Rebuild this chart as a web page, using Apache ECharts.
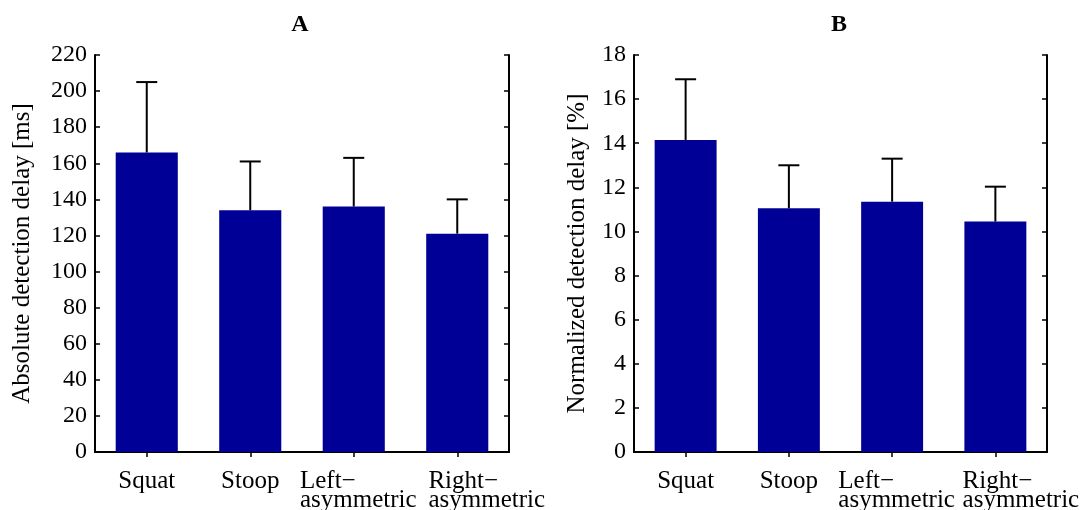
<!DOCTYPE html>
<html><head><meta charset="utf-8">
<script src="https://cdn.jsdelivr.net/npm/echarts@6/dist/echarts.min.js"></script>
<style>html,body{margin:0;padding:0;background:#fff}#c{width:1084px;height:510px}</style>
</head><body><div id="c"></div>
<script>
const categories = ['Squat', 'Stoop', 'Left−\nasymmetric', 'Right−\nasymmetric'];
const absMean = [166, 134, 136, 121];
const absErrTop = [205, 161, 163, 140];
const normMean = [14.15, 11.05, 11.35, 10.45];
const normErrTop = [16.9, 13.0, 13.3, 12.03];
const absTicks = {min: 0, max: 220, interval: 20};
const normTicks = {min: 0, max: 18, interval: 2};

const FONT = 'Liberation Serif';
const BAR = '#000096';
const chart = echarts.init(document.getElementById('c'));

function catLabelFmt(v, idx) {
  if (v.indexOf('\n') < 0) return v;
  const p = v.split('\n');
  const s = idx === 3 ? 'r' : 'l';
  return '{' + s + '|' + p[0] + '}\n{' + s + '|' + p[1] + '}';
}
function richFor(padR) {
  return {
    l: {fontFamily: FONT, fontSize: 25, color: '#000', align: 'left', lineHeight: 19, padding: [0, 0, 0, 9]},
    r: {fontFamily: FONT, fontSize: 25, color: '#000', align: 'left', lineHeight: 19, padding: [0, 0, 0, padR]}
  };
}
const axisLine = {show: true, lineStyle: {color: '#000', width: 2}};
const tick = {show: true, inside: true, length: 5, lineStyle: {color: '#000', width: 1.5}};
function xAxes(gi, padR) {
  return [
    {type: 'category', gridIndex: gi, data: categories, position: 'bottom',
     axisLine: axisLine, axisTick: Object.assign({alignWithLabel: true}, tick),
     axisLabel: {fontFamily: FONT, fontSize: 25, color: '#000', margin: 20, lineHeight: 19, formatter: catLabelFmt, rich: richFor(padR), interval: 0},
     splitLine: {show: false}},
    {type: 'category', gridIndex: gi, data: categories, position: 'top',
     axisLine: axisLine, axisTick: Object.assign({alignWithLabel: true}, tick),
     axisLabel: {show: false}, splitLine: {show: false}}
  ];
}
function yAxes(gi, t, name, gap) {
  return [
    {type: 'value', gridIndex: gi, min: t.min, max: t.max, interval: t.interval, position: 'left',
     name: name, nameLocation: 'middle', nameGap: gap,
     nameTextStyle: {fontFamily: FONT, fontSize: 25, color: '#000'},
     axisLine: axisLine, axisTick: tick,
     axisLabel: {fontFamily: FONT, fontSize: 24, color: '#000', margin: 8},
     splitLine: {show: false}},
    {type: 'value', gridIndex: gi, min: t.min, max: t.max, interval: t.interval, position: 'right',
     axisLine: axisLine, axisTick: tick,
     axisLabel: {show: false}, splitLine: {show: false}}
  ];
}
function errSeries(xi, yi, tops, means) {
  return {
    type: 'custom', xAxisIndex: xi, yAxisIndex: yi, z: 5,
    data: tops.map((t, i) => [i, means[i], t]),
    renderItem: function (params, api) {
      const x = api.value(0);
      const lo = api.coord([x, api.value(1)]);
      const hi = api.coord([x, api.value(2)]);
      const cap = 10.5;
      return {type: 'group', children: [
        {type: 'line', shape: {x1: lo[0], y1: lo[1], x2: hi[0], y2: hi[1]}, style: {stroke: '#000', lineWidth: 2}},
        {type: 'line', shape: {x1: hi[0] - cap, y1: hi[1], x2: hi[0] + cap, y2: hi[1]}, style: {stroke: '#000', lineWidth: 2}}
      ]};
    }
  };
}
chart.setOption({
  animation: false,
  title: [
    {text: 'A', left: 295, top: 8, textAlign: 'center', textStyle: {fontFamily: FONT, fontSize: 24, fontWeight: 'bold', color: '#000'}},
    {text: 'B', left: 834, top: 8, textAlign: 'center', textStyle: {fontFamily: FONT, fontSize: 24, fontWeight: 'bold', color: '#000'}}
  ],
  grid: [
    {left: 95, width: 414, top: 55, bottom: 58, containLabel: false, outerBoundsMode: 'none'},
    {left: 634, width: 413, top: 55, bottom: 58, containLabel: false, outerBoundsMode: 'none'}
  ],
  xAxis: xAxes(0, 59).concat(xAxes(1, 51)),
  yAxis: yAxes(0, absTicks, 'Absolute detection delay [ms]', 60).concat(yAxes(1, normTicks, 'Normalized detection delay [%]', 44)),
  series: [
    {type: 'bar', xAxisIndex: 0, yAxisIndex: 0, data: absMean, barWidth: '60%', itemStyle: {color: BAR}},
    errSeries(0, 0, absErrTop, absMean),
    {type: 'bar', xAxisIndex: 2, yAxisIndex: 2, data: normMean, barWidth: '60%', itemStyle: {color: BAR}},
    errSeries(2, 2, normErrTop, normMean)
  ]
});
</script></body></html>
